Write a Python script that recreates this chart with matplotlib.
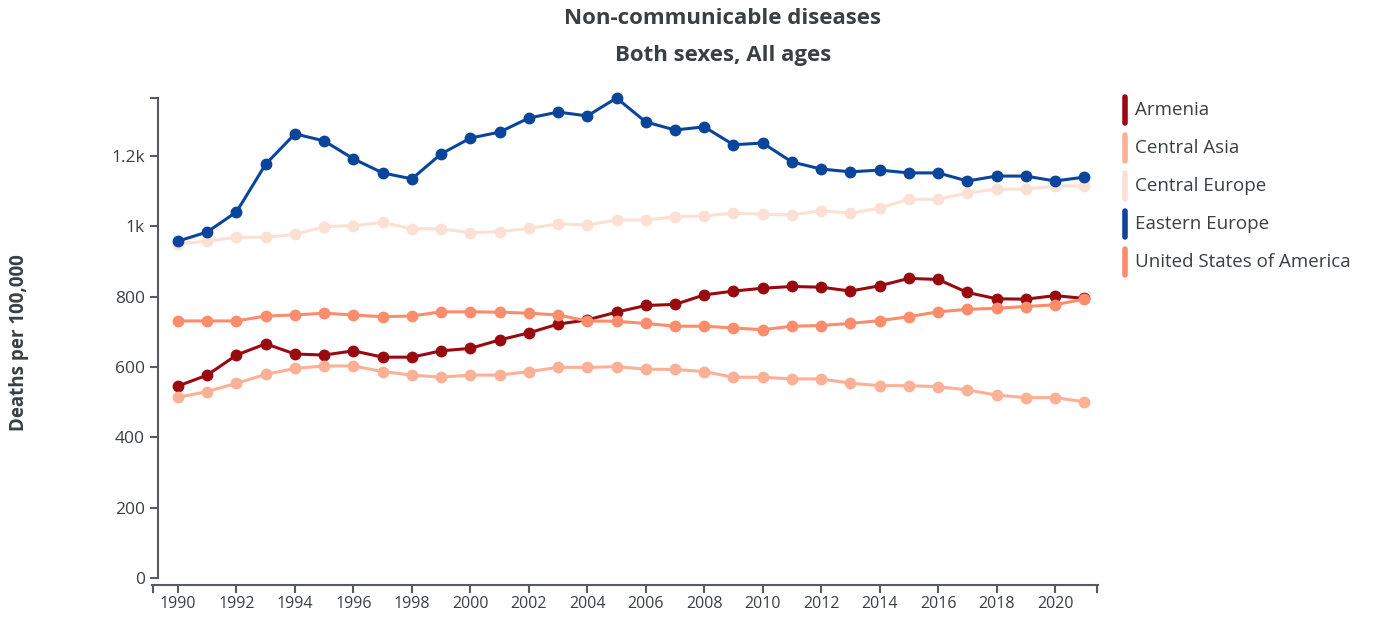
import matplotlib.pyplot as plt
from matplotlib.lines import Line2D
import numpy as np

years = list(range(1990, 2022))

armenia = [546, 577, 634, 666, 637, 634, 646, 628, 628, 646, 653, 677, 697, 722, 734, 756,
           775, 778, 805, 816, 824, 829, 827, 816, 831, 852, 849, 812, 794, 793, 803, 795]
central_asia = [514, 530, 554, 579, 596, 603, 603, 587, 577, 571, 577, 577, 587, 599, 599, 601,
                594, 593, 587, 571, 571, 566, 566, 554, 547, 547, 544, 535, 520, 513, 513, 501]
central_europe = [950, 958, 969, 969, 977, 999, 1002, 1011, 993, 993, 982, 985, 994, 1007, 1004, 1018,
                  1018, 1027, 1030, 1037, 1035, 1032, 1045, 1037, 1052, 1077, 1077, 1095, 1106, 1106, 1115, 1115]
eastern_europe = [958, 984, 1041, 1177, 1263, 1243, 1192, 1152, 1135, 1206, 1251, 1268, 1308, 1325, 1314, 1365,
                  1297, 1274, 1283, 1232, 1237, 1183, 1163, 1155, 1160, 1152, 1152, 1129, 1143, 1143, 1129, 1140]
usa = [731, 731, 731, 745, 748, 753, 748, 743, 745, 757, 757, 756, 753, 748, 731, 730,
       724, 716, 716, 711, 706, 716, 718, 724, 732, 743, 757, 764, 767, 772, 777, 793]

names = ['Armenia', 'Central Asia', 'Central Europe', 'Eastern Europe', 'United States of America']
series = [armenia, central_asia, central_europe, eastern_europe, usa]
colors = ['#990a10', '#fcb095', '#fde0d4', '#0a459b', '#fb8c6c']

y_ticks = [0, 200, 400, 600, 800, 1000, 1200]
y_labels = ['0', '200', '400', '600', '800', '1k', '1.2k']
x_ticks = list(range(1990, 2022, 2))

plt.rcParams['font.family'] = ['Open Sans', 'DejaVu Sans']
axis_col = '#555b60'
text_col = '#3a3f44'

fig = plt.figure(figsize=(13.75, 6.24), dpi=100)
W, H = 1375, 624
ax = fig.add_axes([152 / W, 1 - 585 / H, (1098 - 152) / W, (585 - 98) / H])

# draw order: pale lines first, Eastern Europe on top
order = [2, 1, 4, 0, 3]
for i in order:
    ax.plot(years, series[i], color=colors[i], lw=2.2, marker='o', ms=7.5,
            zorder=3 + i, clip_on=False)

ax.set_xlim(1989.11, 2021.47)
ax.set_ylim(-19.9, 1365)

for s in ['top', 'right']:
    ax.spines[s].set_visible(False)
ax.spines['left'].set_position(('data', 1989.32))
ax.spines['left'].set_bounds(0, 1365)
for s in ['left', 'bottom']:
    ax.spines[s].set_color(axis_col)
    ax.spines[s].set_linewidth(1.5)

ax.set_yticks(y_ticks)
ax.set_yticklabels(y_labels)
ax.set_yticks([1365], minor=True)
ax.set_xticks(x_ticks)
ax.set_xticks([1989.11 + 0.02, 2021.47 - 0.02], minor=True)
ax.tick_params(which='both', colors=axis_col, width=1.5, length=6, labelcolor=text_col)
ax.tick_params(axis='y', labelsize=12.5)
ax.tick_params(axis='x', which='major', pad=2, labelsize=11.5)

fig.text(19 / W, 1 - 343 / H, 'Deaths per 100,000', rotation=90, ha='center', va='center',
         fontsize=13.5, fontweight='bold', color=text_col)

fig.text(723 / W, 1 - 19 / H, 'Non-communicable diseases', ha='center', va='center',
         fontsize=16, fontweight='bold', color=text_col)
fig.text(723 / W, 1 - 56 / H, 'Both sexes, All ages', ha='center', va='center',
         fontsize=16, fontweight='bold', color=text_col)

for k, (name, c) in enumerate(zip(names, colors)):
    yc = 110 + 38 * k
    fig.add_artist(Line2D([1125 / W, 1125 / W], [1 - (yc - 13) / H, 1 - (yc + 13) / H],
                          color=c, lw=4, solid_capstyle='round'))
    fig.text(1135 / W, 1 - yc / H, name, ha='left', va='center', fontsize=13.5, color=text_col)

fig.savefig('out.png', dpi=100, facecolor='white')
